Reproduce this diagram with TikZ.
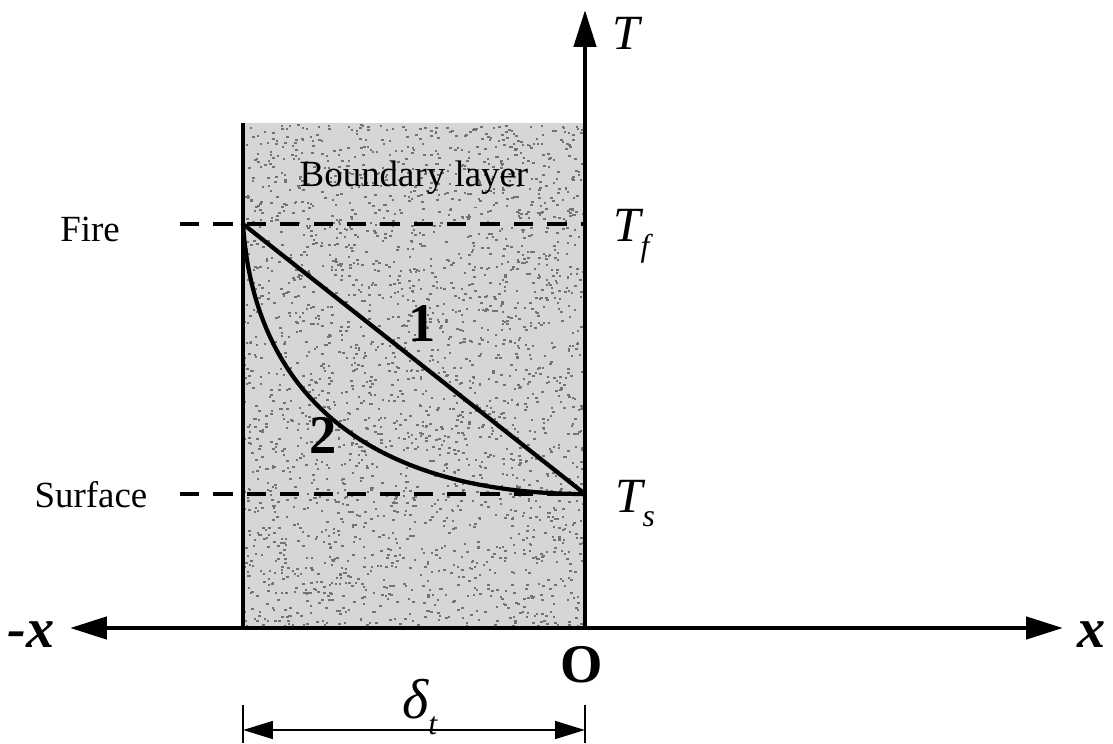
\documentclass[tikz,border=0pt]{standalone}
\usepackage{fontspec}
\setmainfont{Liberation Serif}
\usetikzlibrary{arrows.meta,calc}
\newcommand{\lowsub}[1]{\raisebox{-0.3em}{\fontsize{18}{20}\selectfont\itshape #1}}

\begin{document}
\begin{tikzpicture}[
  axis/.style={line width=2.6pt},
  dashline/.style={line width=2.8pt,dash pattern=on 11pt off 8pt},
  curve/.style={line width=2.4pt},
  dimline/.style={line width=1.6pt},
  lbl/.style={font=\fontsize{21}{25}\selectfont,anchor=base},
  sym/.style={font=\fontsize{28}{32}\selectfont\itshape,anchor=base west,inner sep=0pt},
  num/.style={font=\fontsize{31}{35}\selectfont\bfseries,anchor=base,inner sep=0pt},
  axlbl/.style={font=\fontsize{32}{36}\selectfont\bfseries\itshape,inner sep=0pt}]
  \useasboundingbox (-11.7,-2.3) rectangle (10.56,12.56);
  \def\D{6.84}  % layer thickness
  \def\F{8.08}  % fire level
  \def\S{2.68}  % surface level
  % speckled boundary layer
  \fill[black!16] (-\D,0) rectangle (0,10.1);
  \pgfmathsetseed{42}
  \foreach \i in {1,...,2600}
    \fill[black!55] ({-\D*rnd},{10.05*rnd}) rectangle ++(0.05,0.04);
  % points
  \coordinate (O) at (0,0);
  \coordinate (xl) at (-10.3,0);
  \coordinate (xr) at (9.56,0);
  \coordinate (Ttop) at (0,12.36);
  \coordinate (bl) at (-\D,0);
  \coordinate (tl) at (-\D,10.1);
  \coordinate (fs) at (-8.1,\F);
  \coordinate (fw) at (-\D,\F);
  \coordinate (fe) at (0,\F);
  \coordinate (ss) at (-8.1,\S);
  \coordinate (se) at (0,\S);
  \draw[line width=2pt] (bl) -- (tl);
  % levels
  \draw[dashline] (fs) -- (fe);
  \draw[dashline] (ss) -- (se);
  % profiles
  \draw[curve] (fw) -- (se);
  \draw[curve] (fw) .. controls (-6.6,4.4) and (-4.0,\S) .. (se);
  % axes
  \draw[axis,-{Triangle[length=21pt,width=12.5pt]}] (O) -- (Ttop);
  \draw[axis,{Triangle[length=21pt,width=12.5pt]}-{Triangle[length=21pt,width=12.5pt]}] (xl) -- (xr);
  % thickness
  \coordinate (lt) at (-\D,-1.54);
  \coordinate (lb) at (-\D,-2.3);
  \coordinate (rt) at (0,-1.54);
  \coordinate (rb) at (0,-2.3);
  \coordinate (dl) at (-\D,-2.04);
  \coordinate (dr) at (0,-2.04);
  \draw[dimline] (lt) -- (lb);
  \draw[dimline] (rt) -- (rb);
  \draw[dimline,{Triangle[length=17pt,width=10pt]}-{Triangle[length=17pt,width=10pt]}] (dl) -- (dr);
  % labels
  \node[lbl] (fire) at (-9.9,7.72) {Fire};
  \node[lbl] (surf) at (-9.88,2.42) {Surface};
  \node[lbl] (bl-lbl) at (-3.42,8.82) {Boundary layer};
  \node[sym] (T) at (0.54,11.56) {T};
  \node[sym] (Tf) at (0.56,7.72) {T\lowsub{f}};
  \node[sym] (Ts) at (0.6,2.32) {T\lowsub{s}};
  \node[num] (one) at (-3.26,5.72) {1};
  \node[num] (two) at (-5.24,3.5) {2};
  \node[num] (orig) at (-0.06,-1.08) {O};
  \node[sym,font=\fontsize{32}{36}\selectfont\itshape] (delta) at (-3.66,-1.8) {δ\lowsub{t}};
  \node[axlbl,anchor=base east] (mx) at (-10.6,-0.38) {-x};
  \node[axlbl,anchor=base west] (px) at (9.84,-0.38) {x};
\end{tikzpicture}
\end{document}
